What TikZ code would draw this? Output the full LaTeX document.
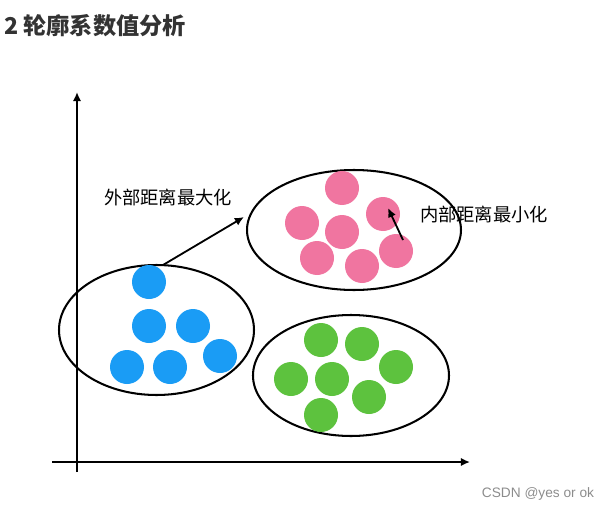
\documentclass[tikz,border=0pt]{standalone}
\usepackage{fontspec}
\setsansfont{Liberation Sans}
\newfontfamily\cjk{Noto Sans CJK SC}
\usepackage{xcolor}
\usetikzlibrary{positioning,calc}
\usetikzlibrary{arrows.meta}
\usetikzlibrary{shapes.geometric}
\definecolor{dotblue}{HTML}{1A9CF5}
\definecolor{dotpink}{HTML}{F075A0}
\definecolor{dotgreen}{HTML}{5DC23E}
\tikzset{
  dot/.style={circle, inner sep=0pt, minimum size=1.7cm},
  cluster/.style={ellipse, draw, line width=2.9pt, inner sep=0pt},
  arr/.style={-{Latex[length=13pt,width=12pt]}, line width=2.6pt},
  lab/.style={font=\cjk\fontsize{26}{30}\selectfont, inner sep=0pt}
}

\begin{document}
\begin{tikzpicture}[x=0.05cm, y=-0.05cm]
            \useasboundingbox (0,0) rectangle (611,511);
            \node[anchor=west, inner sep=0pt, text=black!80, font=\cjk\bfseries\fontsize{33}{36}\selectfont] (title) at (4,26) {2 轮廓系数值分析};
            % axes
            \coordinate (ybot) at (77,472);
            \coordinate (ytop) at (77,92);
            \coordinate (xleft) at (52,462);
            \coordinate (xright) at (470,462);
            \draw[arr] (ybot) -- (ytop);
            \draw[arr] (xleft) -- (xright);
            % clusters
            \node[cluster, minimum width=9.75cm, minimum height=6.5cm] (blue) at (156.5,330) {};
            \node[cluster, minimum width=10.7cm, minimum height=6cm] (pink) at (354,230) {};
            \node[cluster, minimum width=9.8cm, minimum height=6.05cm] (green) at (351,375.5) {};
            \foreach \n/\x/\y in {b1/149/282, b2/149/326, b3/193/326, b4/127/367, b5/170/367, b6/220/356}
                \node[dot, fill=dotblue] (\n) at (\x,\y) {};
            \foreach \n/\x/\y in {p1/342/188, p2/383/214, p3/302/223, p4/342/232, p5/317/258, p6/362/266, p7/396/251}
                \node[dot, fill=dotpink] (\n) at (\x,\y) {};
            \foreach \n/\x/\y in {g1/321/340, g2/362/344, g3/396/367, g4/291/379, g5/332/379, g6/369/397, g7/321/415}
                \node[dot, fill=dotgreen] (\n) at (\x,\y) {};
            % distances
            \coordinate (outa) at (163,265);
            \coordinate (outb) at (244,217);
            \draw[arr] (outa) -- (outb);
            \node[lab] (outlab) at (168,197) {外部距离最大化};
            \draw[arr] ($(p7)+(7,-11)$) -- ($(p2)+(5,-6)$);
            \node[lab] (inlab) at (484,215) {内部距离最小化};
            \node[font=\sffamily\fontsize{19.5}{22}\selectfont, text=black!45, inner sep=0pt] (mark) at (538,494) {CSDN @yes or ok};
\end{tikzpicture}
\end{document}
